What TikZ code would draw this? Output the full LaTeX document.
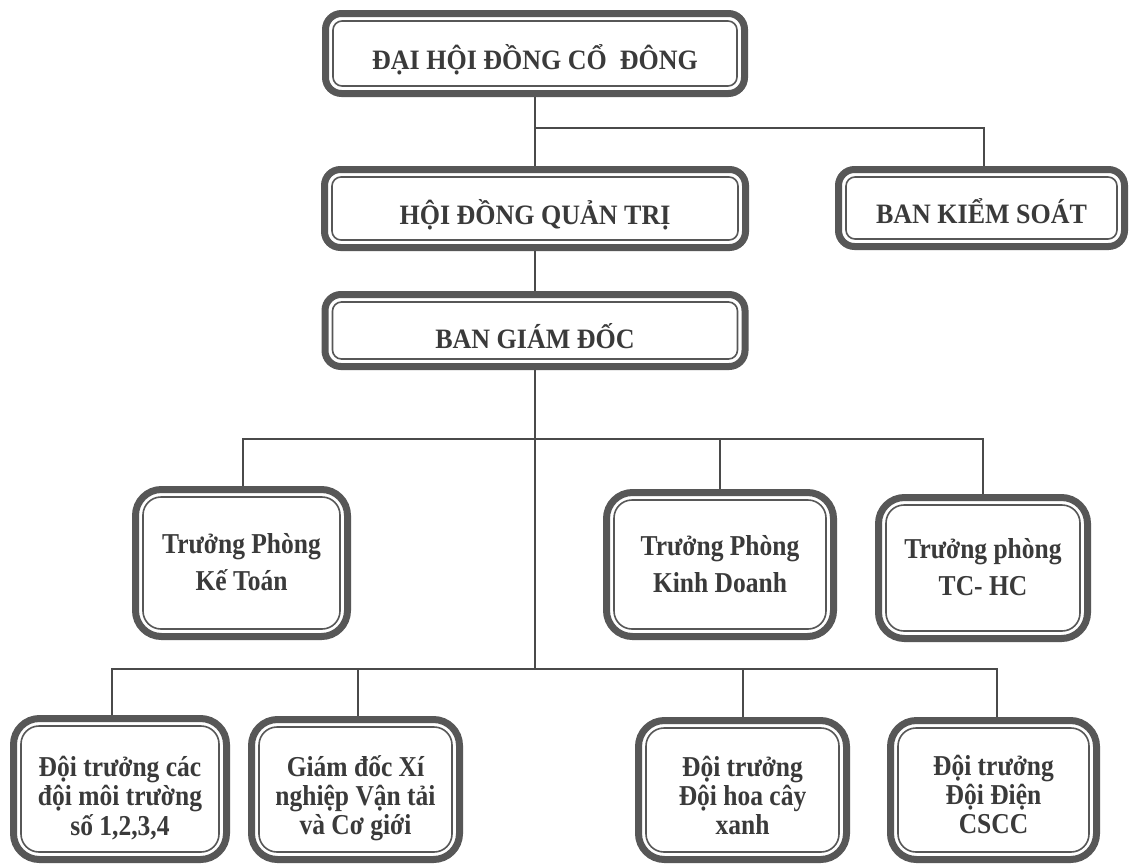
\documentclass[tikz,border=0pt]{standalone}
\usepackage{graphicx}
\usepackage{fontspec}
\setmainfont{Liberation Serif}
\usetikzlibrary{calc}
\definecolor{boxgray}{HTML}{575757}
\definecolor{txtgray}{HTML}{3A3A3A}
\definecolor{linegray}{HTML}{4A4A4A}
\newcommand\vtxt[2]{\scalebox{1}[#1]{\begin{tabular}{@{}c@{}}#2\end{tabular}}}
\newcommand\lowered[2]{\raisebox{-#1}[\height][\depth]{#2}}
\tikzset{
  orgbox/.style={draw=boxgray, line width=7pt, rounded corners=#1, fill=white,
    align=center, text=txtgray, inner sep=0pt, font=\bfseries},
  orgbox/.default=16pt,
  innerline/.style={draw=boxgray, line width=1.6pt, rounded corners=#1},
  innerline/.default=9pt,
  conn/.style={draw=linegray, line width=1.8pt},
  bigtxt/.style={font=\bfseries\fontsize{26}{30}\selectfont},
  midtxt/.style={font=\bfseries\fontsize{25.5}{32.5}\selectfont},
  lowtxt/.style={font=\bfseries\fontsize{25.5}{25.5}\selectfont},
}
\begin{document}
\begin{tikzpicture}[x=1pt,y=-1pt]
\useasboundingbox[fill=white] (0,0) rectangle (1131,865);

% top levels
\node[orgbox, bigtxt, minimum width=419pt, minimum height=80pt] (dhdcd) at (535,53.5) {\lowered{8pt}{\vtxt{1.08}{ĐẠI HỘI ĐỒNG CỔ\ \ ĐÔNG}}};
\node[orgbox, bigtxt, minimum width=421pt, minimum height=78pt] (hdqt) at (535,208.5) {\lowered{8pt}{\vtxt{1.08}{HỘI ĐỒNG QUẢN TRỊ}}};
\node[orgbox, bigtxt, minimum width=286pt, minimum height=77pt] (bks) at (981.5,208) {\lowered{8pt}{\vtxt{1.08}{BAN KIỂM SOÁT}}};
\node[orgbox, bigtxt, minimum width=420pt, minimum height=72pt] (bgd) at (535,330.5) {\lowered{10pt}{\vtxt{1.08}{BAN GIÁM ĐỐC}}};

% middle row
\node[orgbox=26pt, midtxt, minimum width=212pt, minimum height=147pt] (kt) at (241.5,563) {\lowered{2pt}{\vtxt{1.13}{Trưởng Phòng\\Kế Toán}}};
\node[orgbox=26pt, midtxt, minimum width=227pt, minimum height=144pt] (kd) at (720,564.5) {\lowered{2pt}{\vtxt{1.13}{Trưởng Phòng\\Kinh Doanh}}};
\node[orgbox=26pt, midtxt, minimum width=209pt, minimum height=141pt] (tchc) at (983,568) {\lowered{2pt}{\vtxt{1.13}{Trưởng phòng\\TC- HC}}};

% bottom row
\node[orgbox=26pt, lowtxt, minimum width=213pt, minimum height=141pt] (dmt) at (120,789) {\lowered{11pt}{\vtxt{1.13}{Đội trưởng các\\đội môi trường\\số 1,2,3,4}}};
\node[orgbox=26pt, lowtxt, minimum width=208pt, minimum height=140pt] (gdxn) at (355.5,789.5) {\lowered{10pt}{\vtxt{1.13}{Giám đốc Xí\\nghiệp Vận tải\\và Cơ giới}}};
\node[orgbox=26pt, lowtxt, minimum width=208pt, minimum height=139pt] (dhcx) at (742.5,790) {\lowered{10pt}{\vtxt{1.13}{Đội trưởng\\Đội hoa cây\\xanh}}};
\node[orgbox=26pt, lowtxt, minimum width=206pt, minimum height=139pt] (ddcs) at (993.5,790) {\lowered{9pt}{\vtxt{1.13}{Đội trưởng\\Đội Điện\\CSCC}}};

% inner outlines
\foreach \n in {dhdcd,hdqt,bks,bgd}{
  \draw[innerline] ([shift={(11pt,-11pt)}]\n.north west) rectangle ([shift={(-11pt,11pt)}]\n.south east);
}
\foreach \n in {kt,kd,tchc,dmt,gdxn,dhcx,ddcs}{
  \draw[innerline=18pt] ([shift={(11pt,-11pt)}]\n.north west) rectangle ([shift={(-11pt,11pt)}]\n.south east);
}

% connectors
\coordinate (j1) at (535,128);
\coordinate (bus1) at (535,439);
\coordinate (bus2) at (535,669);
\draw[conn] (dhdcd.south) -- (hdqt.north);
\draw[conn] (j1) -| ([xshift=2.5pt]bks.north);
\draw[conn] (hdqt.south) -- (bgd.north);
\draw[conn] (bgd.south) -- (bus2);
\draw[conn] ([xshift=1.5pt]kt.north) |- (bus1) -| (tchc.north);
\draw[conn] (bus1) -| (kd.north);
\draw[conn] ([xshift=-8pt]dmt.north) |- (bus2) -| ([xshift=3.5pt]ddcs.north);
\draw[conn] (bus2) -| ([xshift=2.5pt]gdxn.north);
\draw[conn] (bus2) -| ([xshift=0.5pt]dhcx.north);
\end{tikzpicture}
\end{document}
